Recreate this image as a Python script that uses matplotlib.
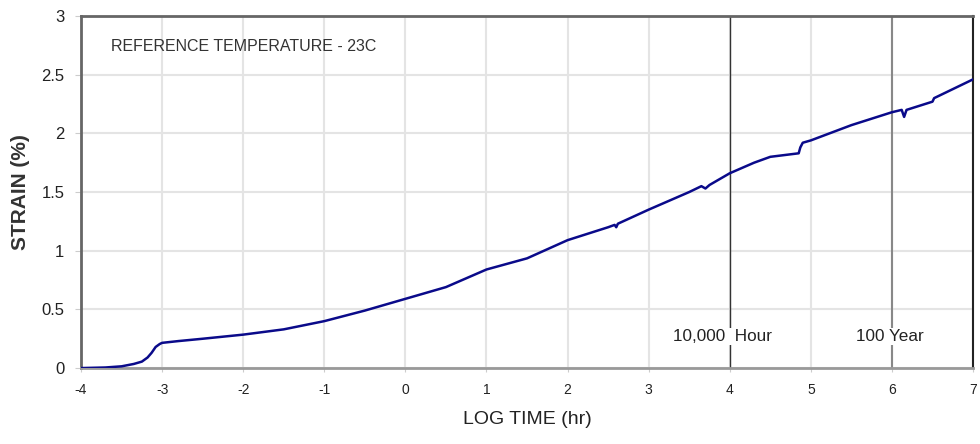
import matplotlib
matplotlib.use("Agg")
import matplotlib.pyplot as plt

log_time = [-4.0, -3.7, -3.5, -3.35, -3.25, -3.18, -3.13, -3.08, -3.03, -3.0, -2.8, -2.5, -2.0, -1.5,
            -1.0, -0.5, 0.0, 0.5, 1.0, 1.5, 2.0, 2.5, 2.58, 2.6, 2.62, 3.0, 3.5, 3.65, 3.7, 3.75,
            4.0, 4.3, 4.5, 4.85, 4.87, 4.9, 5.0, 5.5, 6.0, 6.12, 6.15, 6.18, 6.5, 6.52, 7.0]
strain = [0.0, 0.005, 0.015, 0.035, 0.055, 0.09, 0.13, 0.18, 0.205, 0.215, 0.23, 0.25, 0.285, 0.33,
          0.40, 0.49, 0.59, 0.69, 0.84, 0.935, 1.09, 1.2, 1.22, 1.2, 1.23, 1.35, 1.5, 1.55, 1.53, 1.56,
          1.66, 1.75, 1.8, 1.83, 1.88, 1.92, 1.94, 2.07, 2.18, 2.2, 2.14, 2.2, 2.27, 2.3, 2.46]

x_ticks = [-4, -3, -2, -1, 0, 1, 2, 3, 4, 5, 6, 7]
y_ticks = [0, 0.5, 1, 1.5, 2, 2.5, 3]
y_tick_labels = ["0", "0.5", "1", "1.5", "2", "2.5", "3"]
markers_x = [4, 6]
marker_labels = ["10,000  Hour", "100 Year"]

plt.rcParams['font.family'] = ['Liberation Sans', 'DejaVu Sans']
fig = plt.figure(figsize=(9.8, 4.44), dpi=100)
ax = fig.add_axes([0.0827, 0.171, 0.9102, 0.793])

ax.set_xlim(-4, 7)
ax.set_ylim(0, 3)
ax.set_xticks(x_ticks)
ax.set_xticklabels([str(t) for t in x_ticks], fontsize=10, color='#222222')
ax.set_yticks(y_ticks)
ax.set_yticklabels(y_tick_labels, fontsize=12, color='#222222')
ax.grid(True, color='#e4e4e4', linewidth=1.5)
ax.set_axisbelow(True)
ax.tick_params(axis='x', length=3, color='#cccccc', pad=8)
ax.tick_params(axis='y', length=4, color='#cccccc', pad=8)

for s in ['left', 'bottom', 'top']:
    ax.spines[s].set_color('#666666')
    ax.spines[s].set_linewidth(2)
ax.spines['bottom'].set_color('#999999')
ax.spines['right'].set_color('#222222')
ax.spines['right'].set_linewidth(1.5)

ax.axvline(markers_x[0], color='#333333', linewidth=1.0, zorder=1)
ax.axvline(markers_x[1], color='#888888', linewidth=1.5, zorder=1)

ax.plot(log_time, strain, color='#0a0a8a', linewidth=1.8, zorder=3)

ax.text(-3.63, 2.74, "REFERENCE TEMPERATURE - 23C", fontsize=11.5, color='#333333',
        va='center', ha='left')
ax.text(markers_x[0] - 0.7, 0.27, marker_labels[0], fontsize=12.3, color='#222222',
        va='center', ha='left', bbox=dict(facecolor='white', edgecolor='none', pad=1), zorder=2)
ax.text(markers_x[1] - 0.44, 0.27, marker_labels[1], fontsize=12.3, color='#222222',
        va='center', ha='left', bbox=dict(facecolor='white', edgecolor='none', pad=1), zorder=2)

ax.set_xlabel("LOG TIME (hr)", fontsize=14, color='#222222', labelpad=10)
ax.set_ylabel("STRAIN (%)", fontsize=15, fontweight='bold', color='#333333', labelpad=8)

fig.savefig("out.png", dpi=100)
